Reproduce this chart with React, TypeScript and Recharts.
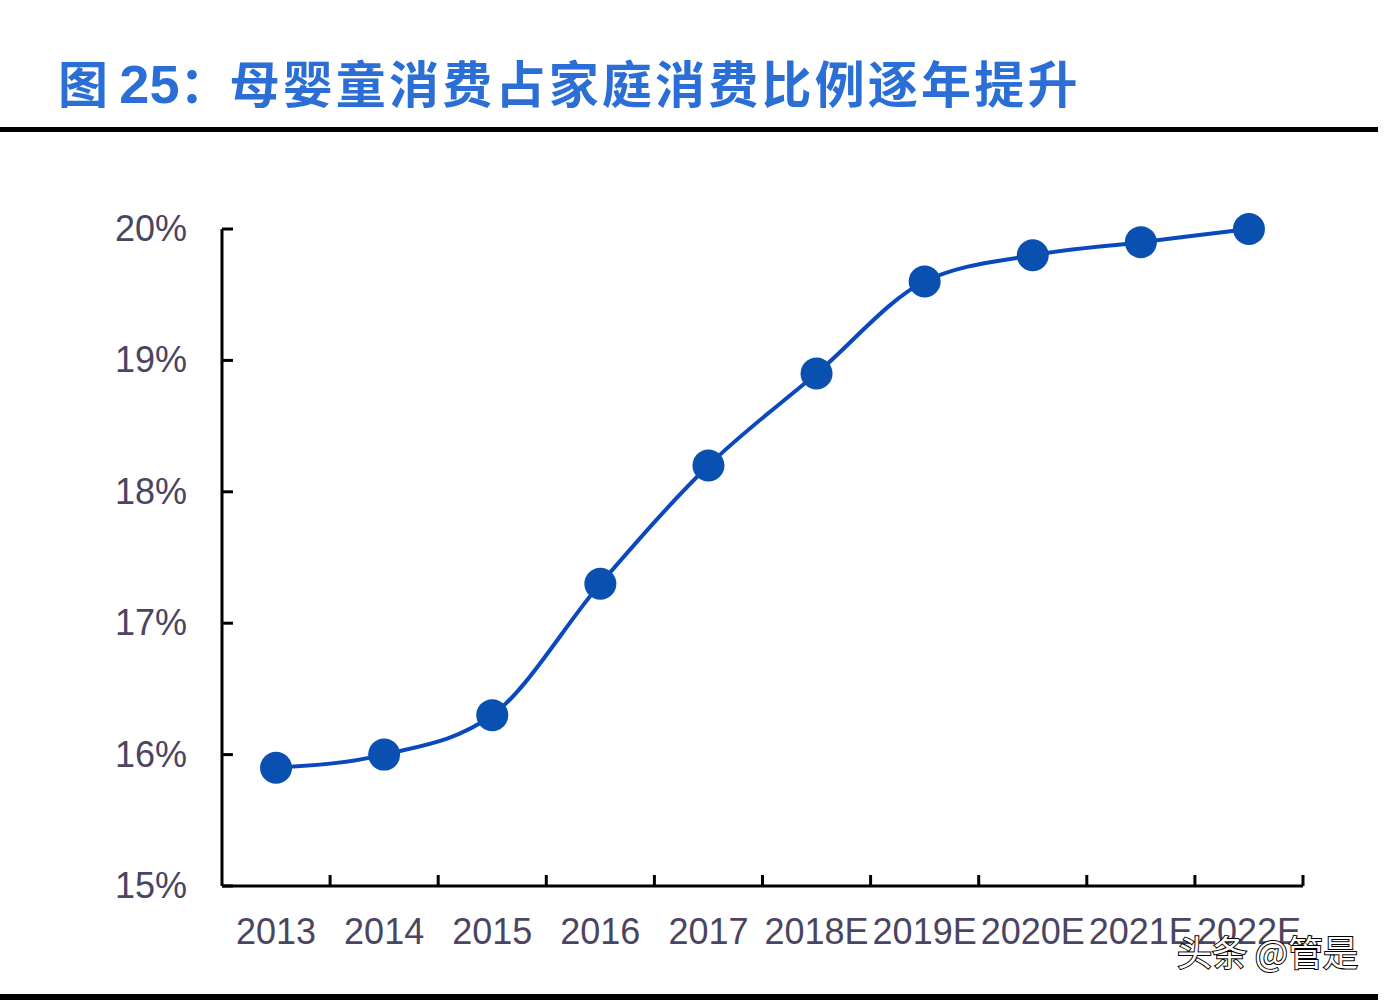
import { LineChart, Line, XAxis, YAxis } from 'recharts';

const years = ['2013', '2014', '2015', '2016', '2017', '2018E', '2019E', '2020E', '2021E', '2022E'];
const share = [15.9, 16.0, 16.3, 17.3, 18.2, 18.9, 19.6, 19.8, 19.9, 20.0];
const yTicks = [15, 16, 17, 18, 19, 20];

const data = years.map((year, i) => ({ year, share: share[i] }));

const W = 1388;
const H = 1000;
const MARGIN = { top: 229, right: 85, left: 100, bottom: 54 };
const Y_AXIS_W = 122;
const HALF_BAND = (W - MARGIN.left - Y_AXIS_W - MARGIN.right) / years.length / 2;
const LABEL_COLOR = '#4a4560';
const FONT = '"Liberation Sans", Arial, sans-serif';

function XTick({ x, y, payload }: any) {
  return (
    <g>
      <line x1={x + HALF_BAND} x2={x + HALF_BAND} y1={y} y2={y - 11} stroke="#000" strokeWidth={3} />
      <text x={x} y={y + 58} textAnchor="middle" fill={LABEL_COLOR} fontSize={36} fontFamily={FONT}>
        {payload.value}
      </text>
    </g>
  );
}

function YTick({ x, y, payload }: any) {
  return (
    <g>
      <line x1={x + 35} x2={x + 46} y1={y} y2={y} stroke="#000" strokeWidth={3} />
      <text x={x} y={y + 12} textAnchor="end" fill={LABEL_COLOR} fontSize={36} fontFamily={FONT}>
        {`${payload.value}%`}
      </text>
    </g>
  );
}

export default function App() {
  return (
    <div style={{ position: 'absolute', left: 0, top: 0, width: W, height: H, background: '#fff', overflow: 'hidden' }}>
      <div
        style={{
          position: 'absolute',
          left: 58,
          top: 48,
          color: '#2b6fd6',
          fontFamily: '"Noto Sans CJK SC", sans-serif',
          fontWeight: 700,
          fontSize: 50,
          lineHeight: '66px',
          whiteSpace: 'nowrap',
        }}
      >
        图 <span style={{ fontFamily: '"Liberation Sans", Arial, sans-serif', fontSize: 54 }}>25</span>：
        <span style={{ letterSpacing: 3.2 }}>母婴童消费占家庭消费比例逐年提升</span>
      </div>
      <div style={{ position: 'absolute', left: 0, top: 127, width: 1378, height: 5, background: '#000' }} />
      <div style={{ position: 'absolute', left: 0, top: 0 }}>
        <LineChart width={W} height={H} data={data} margin={MARGIN}>
          <XAxis
            dataKey="year"
            padding={{ left: HALF_BAND, right: HALF_BAND }}
            axisLine={{ stroke: '#000', strokeWidth: 3 }}
            tickLine={false}
            tickSize={0}
            tickMargin={0}
            height={60}
            interval={0}
            tick={<XTick />}
          />
          <YAxis
            domain={[15, 20]}
            ticks={yTicks}
            width={Y_AXIS_W}
            axisLine={{ stroke: '#000', strokeWidth: 3 }}
            tickLine={false}
            tickSize={0}
            tickMargin={35}
            interval={0}
            tick={<YTick />}
          />
          <Line
            type="monotone"
            dataKey="share"
            stroke="#0a48be"
            strokeWidth={4}
            dot={{ r: 16, fill: '#0a50b0', stroke: '#0a50b0', strokeWidth: 0 }}
            activeDot={false}
            isAnimationActive={false}
          />
        </LineChart>
      </div>
      <div
        style={{
          position: 'absolute',
          left: 1177,
          top: 928,
          fontFamily: '"Noto Sans CJK SC", sans-serif',
          fontSize: 35,
          color: '#fff',
          WebkitTextStroke: '2px #000',
          paintOrder: 'stroke fill',
          whiteSpace: 'nowrap',
          lineHeight: '46px',
        }}
      >
        头条 @管是
      </div>
      <div style={{ position: 'absolute', left: 0, top: 994, width: 1378, height: 6, background: '#000' }} />
    </div>
  );
}
